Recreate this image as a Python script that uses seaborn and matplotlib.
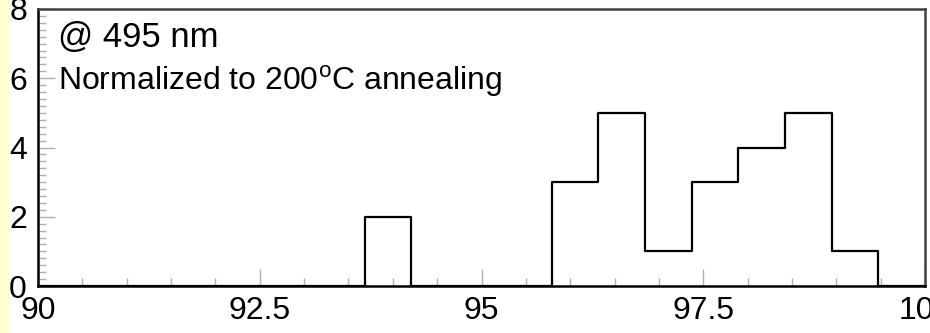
import numpy as np
import pandas as pd
import seaborn as sns
import matplotlib.pyplot as plt
from matplotlib.ticker import MultipleLocator, FuncFormatter
from matplotlib.patches import Rectangle

sns.set_style("ticks")
plt.rcParams['font.family'] = ['Liberation Sans', 'DejaVu Sans']
plt.rcParams['mathtext.fontset'] = 'custom'
plt.rcParams['mathtext.rm'] = 'Liberation Sans'
plt.rcParams['text.color'] = 'black'

# 19 bins from 90 to 100, counts
x_range = (90, 100)
counts = [0, 0, 0, 0, 0, 0, 0, 2, 0, 0, 0, 3, 5, 1, 3, 4, 5, 1, 0]
nbins = len(counts)
width = (x_range[1] - x_range[0]) / nbins
centers = x_range[0] + width * (np.arange(nbins) + 0.5)
df = pd.DataFrame({"ratio": centers, "n": counts})

fig = plt.figure(figsize=(9.3, 3.33), dpi=100)
fig.patches.append(Rectangle((0, 0), 8 / 930, 1, transform=fig.transFigure,
                             color='#ffffd0', zorder=-1))
ax = fig.add_axes([38 / 930, 1 - 286 / 333, 887 / 930, 277 / 333])

sns.histplot(data=df, x="ratio", weights="n", bins=nbins, binrange=x_range,
             element="step", fill=False, color="black", linewidth=1.6, ax=ax)

ax.set_xlim(*x_range)
ax.set_ylim(0, 8)
ax.set_xlabel("")
ax.set_ylabel("")
ax.xaxis.set_major_locator(MultipleLocator(2.5))
ax.xaxis.set_minor_locator(MultipleLocator(0.5))
ax.yaxis.set_major_locator(MultipleLocator(2))
ax.yaxis.set_minor_locator(MultipleLocator(0.2))
ax.xaxis.set_major_formatter(FuncFormatter(lambda v, p: "%g" % v))
ax.tick_params(which="both", direction="in", color="#b0b0b0", width=1,
               labelsize=23, labelcolor="black")
ax.tick_params(which="major", length=12)
ax.tick_params(which="minor", length=6)
ax.tick_params(axis="x", pad=7)
ax.tick_params(axis="y", pad=8)
for side in ["left", "bottom"]:
    ax.spines[side].set_color("black")
    ax.spines[side].set_linewidth(1.8)
for side in ["top", "right"]:
    ax.spines[side].set_visible(True)
    ax.spines[side].set_color("#404040")
    ax.spines[side].set_linewidth(1.8)

ax.text(0.0225, 0.863, "@ 495 nm", transform=ax.transAxes, fontsize=25,
        va="baseline", color="black")
ax.text(0.0225, 0.708, r"Normalized to 200$^{\rm o}$C annealing",
        transform=ax.transAxes, fontsize=23, va="baseline", color="black")

fig.savefig("out.png", dpi=100)
